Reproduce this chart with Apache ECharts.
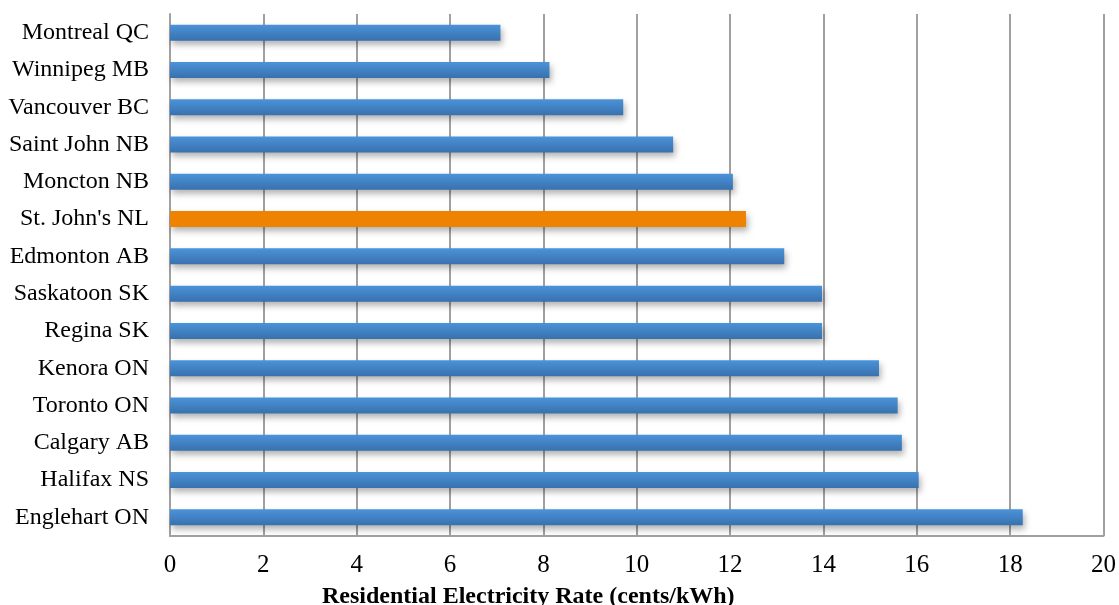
<!DOCTYPE html>
<html>
<head>
<meta charset="utf-8">
<script src="https://cdn.jsdelivr.net/npm/echarts@6/dist/echarts.min.js"></script>
<style>html,body{margin:0;padding:0;background:#fff}#c{width:1119px;height:605px}</style>
</head>
<body>
<div id="c"></div>
<script>
const cities = ["Montreal QC","Winnipeg MB","Vancouver BC","Saint John NB","Moncton NB","St. John's NL","Edmonton AB","Saskatoon SK","Regina SK","Kenora ON","Toronto ON","Calgary AB","Halifax NS","Englehart ON"];
const rates = [7.08,8.13,9.71,10.78,12.06,12.34,13.16,13.97,13.97,15.19,15.59,15.68,16.04,18.27];
const highlightCity = "St. John's NL";
const axisTitle = "Residential Electricity Rate (cents/kWh)";

const blueGrad = new echarts.graphic.LinearGradient(0,0,0,1,[{offset:0,color:'#4b93d9'},{offset:1,color:'#3871ae'}]);
const chart = echarts.init(document.getElementById('c'));
chart.setOption({
  animation:false,
  title:{text:axisTitle,left:317,top:580,textStyle:{fontFamily:'Liberation Serif',fontSize:24,fontWeight:'bold',color:'#000'}},
  grid:{left:170,right:15,top:14,bottom:69},
  xAxis:{type:'value',min:0,max:20,interval:2,
    axisLine:{show:true,lineStyle:{color:'#a0a0a0',width:2}},
    axisTick:{show:false},
    axisLabel:{fontFamily:'Liberation Serif',fontSize:25,color:'#000',margin:17},
    splitLine:{show:true,lineStyle:{color:'#a0a0a0',width:2}}},
  yAxis:{type:'category',data:cities,inverse:true,
    axisLine:{show:true,lineStyle:{color:'#a0a0a0',width:2}},
    axisTick:{show:false},
    axisLabel:{fontFamily:'Liberation Serif',fontSize:24,color:'#000',margin:21,padding:[6,0,0,0]}},
  series:[{type:'bar',barWidth:16,
    data:rates.map((v,i)=>({value:v,itemStyle:{color:cities[i]===highlightCity?'#ef8200':blueGrad}})),
    itemStyle:{shadowColor:'rgba(0,0,0,0.3)',shadowBlur:6,shadowOffsetX:2,shadowOffsetY:4}}]
});
</script>
</body>
</html>
